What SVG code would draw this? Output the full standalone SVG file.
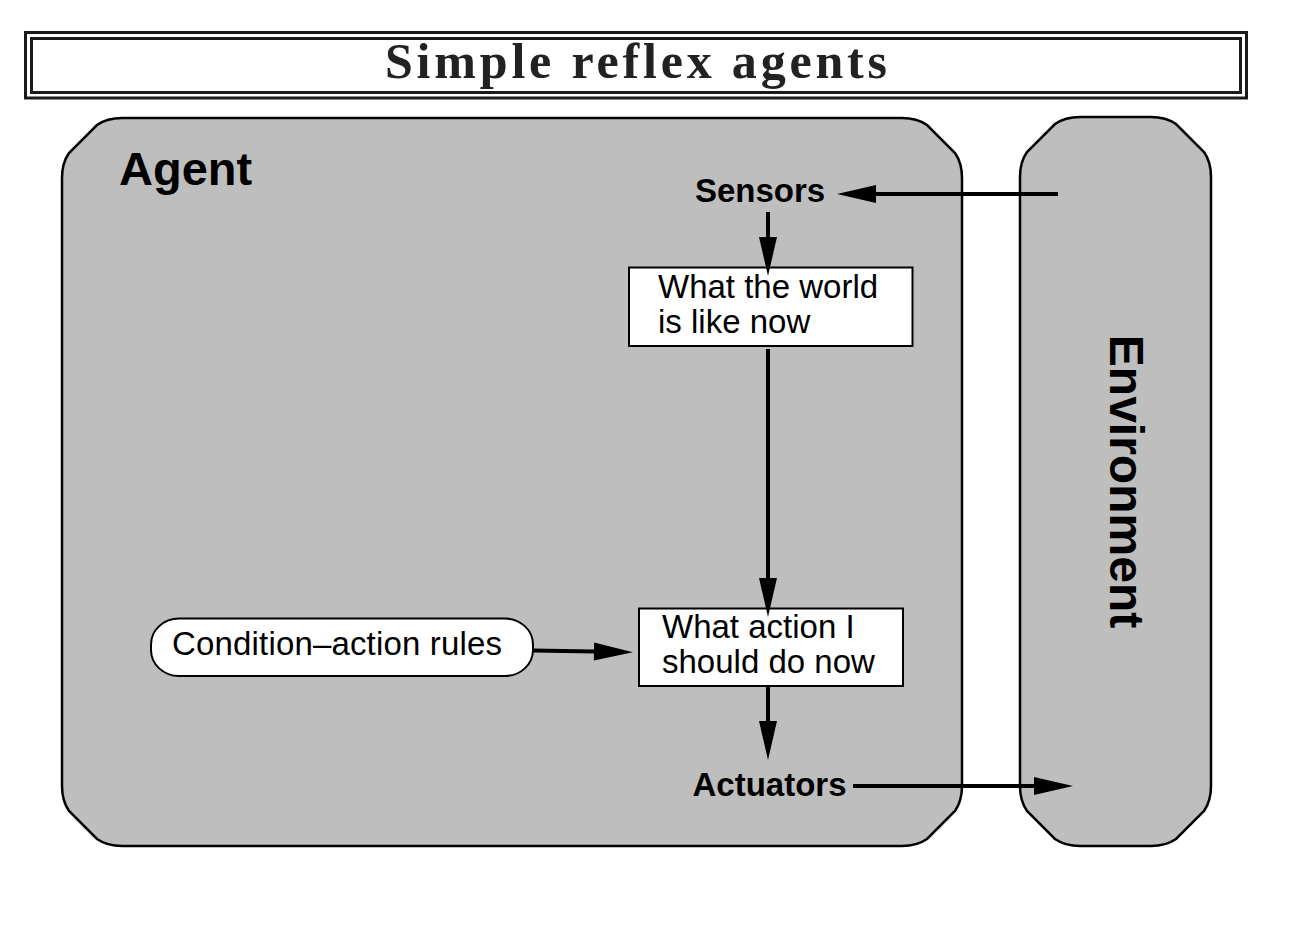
<svg xmlns="http://www.w3.org/2000/svg" width="1303" height="933" viewBox="0 0 1303 933">
<style>
.frame{fill:none;stroke:#1a1a1a;stroke-width:3}
.region{fill:#bebebe;stroke:#000;stroke-width:2.5}
.box{fill:#fff;stroke:#000;stroke-width:2}
.lbl{font-family:"Liberation Sans",Arial,sans-serif;font-size:33px;fill:#000}
.bold{font-weight:bold}
.conn{stroke:#000;stroke-width:4;fill:none;marker-end:url(#ah)}
</style>
<defs>
<marker id="ah" markerUnits="userSpaceOnUse" markerWidth="40" markerHeight="20" refX="0" refY="9" orient="auto" overflow="visible">
<path d="M0,0 L39,9 L0,18 Z" fill="#000"/>
</marker>
</defs>
<rect width="1303" height="933" fill="#fff"/>
<g id="title">
<rect class="frame" x="25.5" y="32.5" width="1221" height="65.5"/>
<rect class="frame" x="31.5" y="38.5" width="1209" height="54"/>
<text x="385" y="78" textLength="502" lengthAdjust="spacing" font-family="'Liberation Serif','Times New Roman',serif" font-weight="bold" font-size="50" fill="#222">Simple reflex agents</text>
</g>
<g id="agent">
<path class="region" d="M 62,178 Q 62,163 69,153 L 97,125 Q 107,118 122,118 L 902,118 Q 917,118 927,125 L 955,153 Q 962,163 962,178 L 962,786 Q 962,801 955,811 L 927,839 Q 917,846 902,846 L 122,846 Q 107,846 97,839 L 69,811 Q 62,801 62,786 Z"/>
<text class="lbl bold" x="119" y="185" style="font-size:47px">Agent</text>
</g>
<g id="environment">
<path class="region" d="M 1020,177 Q 1020,162 1027,152 L 1055,124 Q 1065,117 1080,117 L 1151,117 Q 1166,117 1176,124 L 1204,152 Q 1211,162 1211,177 L 1211,786 Q 1211,801 1204,811 L 1176,839 Q 1166,846 1151,846 L 1080,846 Q 1065,846 1055,839 L 1027,811 Q 1020,801 1020,786 Z"/>
<text class="lbl bold" style="font-size:48px" text-anchor="middle" transform="translate(1110,481.5) rotate(90)">Environment</text>
</g>
<g id="sensors">
<text class="lbl bold" x="760" y="202" text-anchor="middle">Sensors</text>
</g>
<g id="world">
<rect class="box" x="629" y="267.5" width="283.5" height="78.5"/>
<text class="lbl" x="658" y="298">What the world<tspan x="658" y="333">is like now</tspan></text>
</g>
<g id="action">
<rect class="box" x="639" y="608.5" width="264" height="77.5"/>
<text class="lbl" x="662" y="638">What action I<tspan x="662" y="673">should do now</tspan></text>
</g>
<g id="rules">
<rect class="box" x="151" y="618.5" width="382" height="57.5" rx="28" ry="26"/>
<text class="lbl" x="172" y="655" textLength="330" lengthAdjust="spacing">Condition–action rules</text>
</g>
<g id="actuators">
<text class="lbl bold" x="769.5" y="796" text-anchor="middle">Actuators</text>
</g>
<g id="connectors">
<line class="conn" x1="1058" y1="194" x2="876" y2="194"/>
<line class="conn" x1="768" y1="212" x2="768" y2="237"/>
<line class="conn" x1="768" y1="349" x2="768" y2="578"/>
<line class="conn" x1="768" y1="686" x2="768" y2="721"/>
<line class="conn" x1="533" y1="650.5" x2="594" y2="651.5"/>
<line class="conn" x1="853" y1="786" x2="1034" y2="786"/>
</g>
</svg>
